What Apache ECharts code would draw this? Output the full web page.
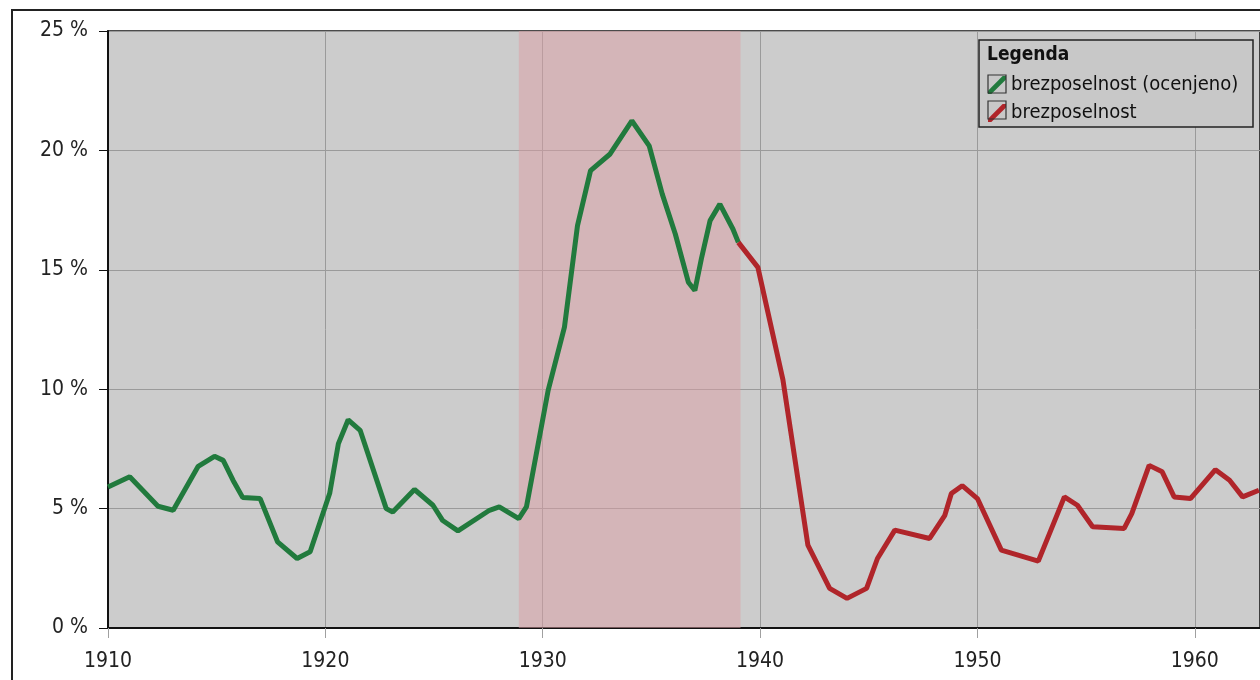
<!DOCTYPE html>
<html>
<head>
<meta charset="utf-8">
<script src="https://cdn.jsdelivr.net/npm/echarts@6/dist/echarts.min.js"></script>
<style>
  html, body { margin: 0; padding: 0; background: #fff; }
  #graph1 { width: 1260px; height: 680px; }
</style>
</head>
<body>
<div id="graph1"></div>
<script>
// ocenjeno (estimated) unemployment, 1910-1939
var estYears = [1910, 1911, 1912.3, 1913, 1914.15, 1914.9, 1915.3, 1915.75, 1916.2, 1917, 1917.8, 1918.7, 1919.3,
    1920.2, 1920.6, 1921.05, 1921.6, 1922.8, 1923.1, 1924.1, 1924.95, 1925.4, 1926.1, 1927.55, 1928, 1928.9, 1929.25,
    1930.25, 1931, 1931.6, 1932.2, 1933.1, 1934.1, 1934.9, 1935.5, 1936.1, 1936.7, 1937, 1937.3, 1937.7, 1938.15,
    1938.75, 1939];
var estValues = [5.9, 6.33, 5.1, 4.93, 6.77, 7.19, 7.02, 6.19, 5.46, 5.42, 3.61, 2.91, 3.19,
    5.64, 7.72, 8.72, 8.28, 5.0, 4.86, 5.8, 5.14, 4.5, 4.07, 4.93, 5.07, 4.58, 5.07,
    9.95, 12.6, 16.85, 19.15, 19.85, 21.24, 20.19, 18.17, 16.5, 14.48, 14.13, 15.46, 17.06, 17.75,
    16.71, 16.15];
// measured unemployment, 1939 onwards
var realYears = [1939, 1939.9, 1941.05, 1942.2, 1943.2, 1944, 1944.9, 1945.4, 1946.2, 1947.8, 1948.5, 1948.8,
    1949.3, 1950, 1951.1, 1952.8, 1954, 1954.6, 1955.3, 1956.75, 1957.1, 1957.9, 1958.5, 1959.05, 1959.8,
    1960.95, 1961.6, 1962.2, 1962.95];
var realValues = [16.15, 15.1, 10.4, 3.47, 1.66, 1.24, 1.66, 2.91, 4.1, 3.75, 4.72, 5.63,
    5.96, 5.42, 3.26, 2.8, 5.49, 5.14, 4.24, 4.17, 4.79, 6.81, 6.54, 5.49, 5.42,
    6.63, 6.19, 5.49, 5.77];
// great depression band
var bandStart = 1928.9;
var bandEnd = 1939.1;

var seriesNames = ['brezposelnost (ocenjeno)', 'brezposelnost'];

function pairs(xs, ys) {
    var out = [];
    for (var i = 0; i < xs.length; i++) {
        out.push([xs[i], ys[i]]);
    }
    return out;
}

var FONT = '"DejaVu Sans Condensed", "DejaVu Sans", sans-serif';
var stripe = 'path://M0,13 L13,0 L16,0 L16,3 L3,16 L0,16 Z';

option1 = {
    backgroundColor: '#ffffff',
    animation: false,
    textStyle: { fontFamily: FONT },
    grid: {
        left: 108,
        right: -2,
        top: 31,
        bottom: 52,
        show: true,
        backgroundColor: '#cccccc',
        borderColor: '#111',
        borderWidth: 1.5
    },
    legend: {
        orient: 'vertical',
        left: 988,
        top: 75,
        padding: 0,
        itemWidth: 18,
        itemHeight: 18,
        itemGap: 8,
        textStyle: {
            fontFamily: FONT,
            fontSize: 20,
            lineHeight: 18,
            color: '#111'
        },
        data: [
            { name: seriesNames[0], icon: stripe },
            { name: seriesNames[1], icon: stripe }
        ]
    },
    graphic: [
        {
            type: 'rect',
            z: 3,
            shape: { x: 12, y: 10, width: 1400, height: 800 },
            style: { fill: 'none', stroke: '#222', lineWidth: 2 }
        },
        {
            type: 'rect',
            z: 3,
            shape: { x: 979, y: 40, width: 274, height: 87 },
            style: { fill: '#c8c8c8', stroke: '#222', lineWidth: 1.5 }
        },
        {
            type: 'text',
            z: 5,
            left: 987,
            top: 46,
            style: { text: 'Legenda', fontFamily: FONT, fontSize: 19, fontWeight: 'bold', fill: '#111' }
        },
        {
            type: 'rect',
            z: 6,
            shape: { x: 988, y: 75, width: 18, height: 18 },
            style: { fill: 'none', stroke: '#333', lineWidth: 1.2 }
        },
        {
            type: 'rect',
            z: 6,
            shape: { x: 988, y: 101, width: 18, height: 18 },
            style: { fill: 'none', stroke: '#333', lineWidth: 1.2 }
        }
    ],
    xAxis: {
        type: 'value',
        min: 1910,
        max: 1963,
        interval: 10,
        axisLine: { show: true, onZero: false, lineStyle: { color: '#111', width: 2 } },
        axisTick: { show: true, length: 10, lineStyle: { color: '#a0a0a0' } },
        axisLabel: {
            margin: 23,
            fontSize: 21,
            fontFamily: FONT,
            color: '#222',
            showMaxLabel: false,
            formatter: function (v) { return Math.round(v); }
        },
        splitLine: { show: true, lineStyle: { color: '#9a9a9a', width: 1 } }
    },
    yAxis: {
        type: 'value',
        min: 0,
        max: 25,
        interval: 5,
        axisLine: { show: true, lineStyle: { color: '#111', width: 2 } },
        axisTick: { show: true, length: 9, lineStyle: { color: '#111' } },
        axisLabel: {
            margin: 20,
            fontSize: 21,
            fontFamily: FONT,
            color: '#222',
            formatter: '{value} %'
        },
        splitLine: { show: true, lineStyle: { color: '#9a9a9a', width: 1 } }
    },
    series: [
        {
            name: seriesNames[0],
            type: 'line',
            showSymbol: false,
            color: '#217a3d',
            lineStyle: { width: 5, color: '#217a3d' },
            data: pairs(estYears, estValues),
            markArea: {
                silent: true,
                itemStyle: { color: 'rgba(220,158,164,0.5)' },
                data: [[{ xAxis: bandStart }, { xAxis: bandEnd }]]
            }
        },
        {
            name: seriesNames[1],
            type: 'line',
            showSymbol: false,
            color: '#b0252a',
            lineStyle: { width: 5, color: '#b0252a' },
            data: pairs(realYears, realValues)
        }
    ]
};

var myChart = echarts.init(document.getElementById('graph1'));
myChart.setOption(option1);
</script>
</body>
</html>
